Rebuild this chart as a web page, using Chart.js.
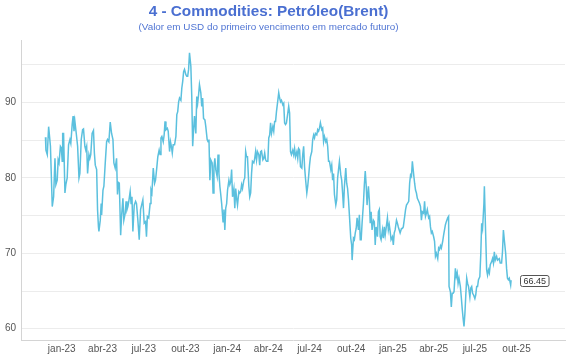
<!DOCTYPE html>
<html><head><meta charset="utf-8">
<script src="https://cdn.jsdelivr.net/npm/chart.js@4.4.1/dist/chart.umd.min.js"></script>
<style>
html,body{margin:0;padding:0;background:#fff;}
#wrap{position:relative;width:570px;height:360px;}
canvas{position:absolute;left:0;top:0;}
#title{position:absolute;left:0;top:2.4px;width:537px;text-align:center;font:bold 15.3px "Liberation Sans",Arial,sans-serif;color:#4a6fd1;line-height:18px;white-space:nowrap;}
#subtitle{position:absolute;left:0;top:21.1px;width:537px;text-align:center;font:9.9px "Liberation Sans",Arial,sans-serif;color:#4f74d3;line-height:12px;white-space:nowrap;}
</style></head>
<body>
<div id="wrap">
<canvas id="c" width="570" height="360"></canvas>
<div id="title">4 - Commodities: Petróleo(Brent)</div>
<div id="subtitle">(Valor em USD do primeiro vencimento em mercado futuro)</div>
</div>
<script>
// days since 2023-01-01
const days = [
-36,-35,-32,-29,-25,-21,-18,-15,-13,-10,
-8,-6,-3,-1,1,2,4,7,9,12,
15,18,20,23,25,27,29,32,35,38,
40,43,46,48,51,53,55,57,60,62,
64,67,70,72,74,77,79,81,82,85,
87,88,91,93,96,99,101,104,107,110,
113,115,118,121,123,125,127,130,132,135,
137,140,142,144,146,148,151,153,155,157,
160,163,165,168,171,174,177,179,182,185,
187,189,192,195,197,199,202,205,207,210,
212,215,217,219,221,224,226,228,230,233,
235,238,240,242,244,246,249,252,254,256,
258,260,263,265,267,269,271,274,276,278,
280,282,285,287,289,291,293,296,298,300,
302,304,307,309,311,313,316,318,321,323,
325,327,329,332,334,336,338,340,343,345,
347,349,351,353,356,358,
360,362,364,366,369,371,373,375,377,380,
382,384,386,388,391,393,395,397,399,402,
404,406,408,410,413,415,417,419,421,424,
426,428,430,432,435,437,439,441,444,446,
448,450,452,455,457,459,461,463,466,468,
470,472,474,477,479,481,483,485,488,490,
492,494,496,499,501,503,505,507,510,512,
514,516,519,521,523,525,527,530,532,534,
536,538,541,543,545,547,
549,552,554,556,558,560,563,565,567,569,
571,574,576,578,580,583,585,587,589,591,
594,596,598,600,602,605,607,609,611,613,
616,618,620,622,624,627,629,631,633,635,
638,640,641,644,646,648,650,652,655,657,
659,661,663,666,668,670,672,674,677,679,
681,683,685,688,690,692,694,697,699,701,
703,705,708,710,712,714,716,719,721,723,
725,727,730,732,734,736,739,741,743,745,
747,750,752,754,756,
759,761,763,766,768,770,772,774,777,779,
781,783,785,788,790,792,794,796,799,801,
803,805,807,810,812,814,816,818,821,823,
825,827,830,832,834,836,838,841,843,845,
847,849,852,854,855,858,860,862,864,866,
869,871,873,875,877,880,882,884,886,888,
890,892,894,896,898,901,903,905,907,909,
912,914,916,918,920,923,925,927,929,932,
933,935,938,940,942,944,946,949,951,953,
955,957,960,962,964,966,968,971,973,975,
977,980,982,984,986,988,991,992
];
const prices = [
85.4,83.7,83.1,86.8,84.2,76.2,77.5,82.6,79.1,79.7,
82.4,82.0,84.2,84.0,82.2,85.9,85.9,78.0,79.1,80.0,
84.4,85.1,84.6,87.1,88.2,86.2,87.5,85.9,84.2,80.0,
80.6,85.1,86.4,86.5,84.2,83.7,84.2,80.6,83.1,82.6,
83.1,85.9,86.3,83.3,81.7,81.1,75.8,73.5,72.9,74.4,
76.6,75.1,78.4,78.9,82.0,84.8,85.1,84.8,87.4,85.9,
85.1,82.0,81.3,82.6,77.8,79.4,79.3,72.4,74.9,77.3,
74.4,75.3,76.9,75.8,76.2,76.9,78.2,76.6,77.5,72.9,
76.4,76.9,76.6,74.4,71.8,75.8,76.6,77.1,74.0,74.2,
72.2,74.9,74.7,76.6,78.4,78.0,81.3,79.3,79.7,81.5,
82.8,83.7,83.1,85.3,85.5,84.8,85.7,87.5,86.4,86.6,
86.2,83.5,84.8,84.2,83.3,84.4,84.4,85.5,88.4,88.8,
90.1,90.6,90.3,91.9,92.8,94.1,94.4,93.7,93.5,93.5,
94.4,96.6,94.8,90.8,84.2,86.4,88.2,85.9,90.8,89.9,
91.0,92.4,91.3,89.5,90.6,87.9,87.7,86.8,85.1,84.8,
85.1,79.7,82.4,82.0,78.0,81.5,82.6,81.1,80.2,83.1,
80.6,78.9,77.8,76.6,74.2,75.8,
73.1,76.0,76.6,78.4,79.7,79.1,79.5,81.1,77.5,78.6,
76.0,78.6,77.3,76.4,78.2,78.0,78.2,79.1,78.6,79.7,
80.0,83.5,82.8,82.8,78.9,77.5,78.0,80.6,82.2,82.0,
82.6,83.5,82.4,83.5,83.1,81.7,83.5,83.6,82.4,82.6,
83.3,82.4,82.2,82.2,85.3,85.7,87.3,85.9,86.8,86.2,
87.5,87.5,88.8,90.3,91.3,90.6,90.1,90.3,89.7,89.9,
87.3,87.1,87.3,88.6,89.5,88.6,83.5,83.1,83.7,83.1,
83.9,82.8,83.5,82.6,83.9,83.7,81.5,81.3,83.1,84.2,
81.5,80.0,78.0,78.9,80.2,81.7,
82.8,83.5,85.1,85.7,85.3,85.9,85.7,86.4,86.2,86.6,
87.3,86.4,86.6,84.8,85.5,84.8,85.1,84.2,82.2,82.2,
81.1,81.7,79.7,80.6,77.8,76.4,77.1,80.0,81.1,82.2,
80.4,79.7,78.0,76.0,78.9,81.3,79.3,78.6,77.1,75.1,
72.0,71.1,69.1,72.0,71.8,72.7,73.3,74.7,73.1,75.1,
71.8,71.8,74.0,76.6,79.1,80.9,79.1,76.4,78.9,77.1,
74.0,75.5,73.1,74.4,74.2,71.1,73.5,72.2,75.5,75.8,
72.2,71.8,73.1,72.0,73.5,72.4,73.3,74.7,73.1,73.8,
72.9,71.8,72.2,71.1,72.7,73.1,74.4,74.0,73.5,73.1,
72.7,73.3,73.3,73.5,74.4,
75.8,76.4,76.6,76.9,79.3,80.4,80.2,82.2,80.4,79.3,
78.4,78.0,77.3,76.9,76.6,76.2,74.4,75.5,75.3,76.9,
74.9,75.3,75.8,74.7,74.9,73.5,72.7,72.9,72.2,71.6,
69.6,70.0,69.3,70.7,70.5,71.0,70.7,71.6,72.4,73.1,
73.8,74.2,74.7,74.9,65.6,64.9,62.9,64.7,64.7,64.9,
68.0,66.9,67.4,66.0,66.7,65.6,64.2,62.7,61.4,60.3,
62.0,64.5,66.7,66.0,65.6,64.2,65.4,65.6,64.7,64.5,
64.0,64.5,65.6,65.6,66.5,66.9,69.8,74.0,73.3,76.6,
78.9,74.4,67.8,67.1,67.8,67.4,68.5,68.9,69.3,68.7,
70.2,69.1,69.6,69.1,69.2,69.3,68.7,68.7,70.2,73.1,
71.8,70.0,68.0,66.7,66.5,66.7,65.8,66.45
];
const tickDays = [0,90,181,273,365,456,547,639,731,821,912,1004];
const tickLabels = ['jan-23','abr-23','jul-23','out-23','jan-24','abr-24','jul-24','out-24','jan-25','abr-25','jul-25','out-25'];
const yGridValues = [60,65,70,75,80,85,90,95];

const FONT = 'Liberation Sans';

const endLabel = {
  id: 'endLabel',
  afterDatasetsDraw(chart) {
    const meta = chart.getDatasetMeta(0);
    const pt = meta.data[meta.data.length - 1];
    const val = prices[prices.length - 1];
    const ctx = chart.ctx;
    ctx.save();
    ctx.font = '9px "' + FONT + '"';
    const txt = val.toFixed(2);
    const tw = ctx.measureText(txt).width;
    const w = tw + 6, h = 11;
    const x0 = Math.round(pt.x + 8.5) + 0.5, y0 = Math.round(pt.y - h / 2) + 0.5;
    ctx.beginPath();
    ctx.roundRect(x0, y0, w, h, 2);
    ctx.fillStyle = '#ffffff';
    ctx.fill();
    ctx.strokeStyle = '#555555';
    ctx.lineWidth = 1;
    ctx.stroke();
    ctx.fillStyle = '#333333';
    ctx.textAlign = 'center';
    ctx.textBaseline = 'middle';
    ctx.fillText(txt, x0 + w / 2, y0 + h / 2 + 0.5);
    ctx.restore();
  }
};

new Chart(document.getElementById('c').getContext('2d'), {
  type: 'line',
  data: {
    datasets: [{
      data: days.map((d, i) => ({ x: d, y: prices[i] })),
      borderColor: '#5bc0de',
      borderWidth: 1.5,
      pointRadius: 0,
      tension: 0,
      fill: false
    }]
  },
  options: {
    responsive: false,
    animation: false,
    devicePixelRatio: 1,
    layout: { padding: { top: 40, right: 5, left: 0, bottom: 0 } },
    plugins: { legend: { display: false }, tooltip: { enabled: false }, title: { display: false } },
    scales: {
      x: {
        type: 'linear', min: -90, max: 1111,
        afterBuildTicks: s => { s.ticks = tickDays.map(v => ({ value: v })); },
        afterFit: s => { s.height = 20; },
        grid: { display: false, drawTicks: false },
        border: { display: true, color: '#d4d4d4', width: 1 },
        ticks: {
          autoSkip: false, maxRotation: 0, padding: 3, color: '#555',
          font: { family: FONT, size: 10 },
          callback: v => { const i = tickDays.indexOf(v); return i >= 0 ? tickLabels[i] : ''; }
        }
      },
      y: {
        min: 58.5, max: 98.3,
        afterBuildTicks: s => { s.ticks = yGridValues.map(v => ({ value: v })); },
        afterFit: s => { s.width = 21; },
        grid: { color: '#ececec', drawTicks: false, lineWidth: 1 },
        border: { display: true, color: '#d4d4d4', width: 1 },
        ticks: {
          padding: 5, color: '#555',
          font: { family: FONT, size: 10 },
          callback: v => (v % 10 === 0 ? String(v) : '')
        }
      }
    }
  },
  plugins: [endLabel]
});
</script>
</body></html>
